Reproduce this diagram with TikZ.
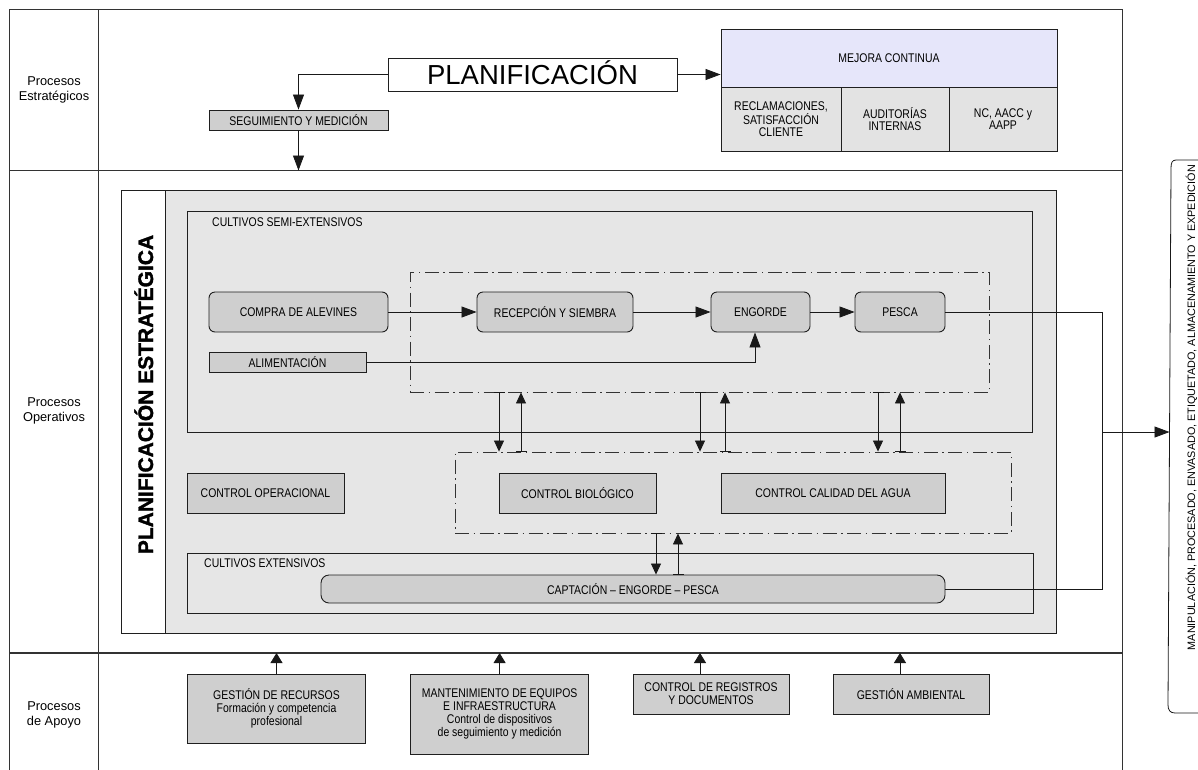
\documentclass[tikz,border=0pt]{standalone}
\usepackage{fontspec}
\setmainfont{Liberation Sans}
\newfontfamily\narrowfont{Liberation Sans}[FakeStretch=0.83]
\newfontfamily\heavyfont{Liberation Sans Bold}[FakeBold=1.6]
\usetikzlibrary{arrows.meta}
\definecolor{boxgray}{HTML}{CFCFCF}
\definecolor{areagray}{HTML}{E6E6E6}
\definecolor{cellgray}{HTML}{E3E3E3}
\definecolor{lavend}{HTML}{E6E6FA}
\newcommand\lblfont{\narrowfont\fontsize{12.6}{12.8}\selectfont}
\tikzset{
  frameline/.style={draw=black!80, line width=1.5pt},
  edge/.style={draw=black!88, line width=0.9pt},
  box/.style={edge, fill=boxgray, inner sep=0pt, align=center, font=\lblfont},
  proc/.style={box, rounded corners=6pt},
  cell/.style={edge, fill=cellgray, inner sep=0pt, align=center,
    font=\narrowfont\fontsize{12.6}{12}\selectfont},
  area/.style={edge, fill=areagray, inner sep=0pt},
  dashbox/.style={draw=black!80, line width=0.9pt, inner sep=0pt,
    dash pattern=on 14pt off 4.5pt on 1.5pt off 4.5pt},
  conn/.style={draw=black!90, line width=0.8pt},
  arr/.style={conn, -{Triangle[length=15pt,width=11pt]}},
  parr/.style={conn, {Bar[width=11pt]}-{Triangle[length=11pt,width=10pt]}},
  sarr/.style={conn, -{Triangle[length=10pt,width=12pt]}},
  lane/.style={font=\fontsize{12.8}{14.5}\selectfont, align=center},
  tag/.style={font=\lblfont, anchor=west, inner sep=0pt},
}
\begin{document}
\begin{tikzpicture}[x=1pt,y=-1pt]
\useasboundingbox (0,0) rectangle (1198,769);
\clip (0,0) rectangle (1198,769);
\fill[white] (0,0) rectangle (1198,769);

% lanes
\draw[frameline] (9.6,780) -- (9.6,9.5) -- (1122.5,9.5) -- (1122.5,780);
\draw[frameline] (98.7,9.5) -- (98.7,780);
\draw[frameline] (9.6,170.5) -- (1122.5,170.5);
\draw[frameline] (9.6,653) -- (1122.5,653);
\coordinate (rowA) at (0,170.5);
\coordinate (rowB) at (0,653);

\node[lane] (lblE) at (54,90) {Procesos\\Estratégicos};
\node[lane] (lblO) at (54,411) {Procesos\\Operativos};
\node[lane] (lblA) at (54,715) {Procesos\\de Apoyo};

% strategic processes
\node[edge, fill=white, inner sep=0pt, minimum width=289pt, minimum height=33pt,
  font=\fontsize{27.5}{27.5}\selectfont, text height=19.7pt, text depth=0pt]
  (planif) at (532.5,74.5) {PLANIFICACIÓN};
\node[box, minimum width=179pt, minimum height=20pt] (seg) at (298.5,120) {SEGUIMIENTO Y MEDICIÓN};
\node[edge, fill=lavend, inner sep=0pt, minimum width=336pt, minimum height=58pt, font=\lblfont]
  (mejora) at (889,58) {MEJORA CONTINUA};
\node[cell, minimum width=120pt, minimum height=64pt] (c1) at (781,119) {RECLAMACIONES,\\SATISFACCIÓN\\CLIENTE};
\node[cell, minimum width=108pt, minimum height=64pt] (c2) at (895,119) {AUDITORÍAS\\INTERNAS};
\node[cell, minimum width=108pt, minimum height=64pt] (c3) at (1003,119) {NC, AACC y\\AAPP};

\draw[arr] (planif.west) -| (seg.north);
\draw[arr] (seg.south) -- (seg.south |- rowA);
\draw[arr] (planif.east) -- (mejora.west |- planif.east);

% operative processes
\node[edge, fill=white, inner sep=0pt, minimum width=44pt, minimum height=443pt] (strip) at (143,411.5) {};
\node[area, minimum width=891pt, minimum height=443pt] (region) at (610.5,411.5) {};
\node[rotate=90, anchor=base, inner sep=0pt, font=\heavyfont\fontsize{21}{21}\selectfont]
  (pe) at (153,394.5) {PLANIFICACIÓN ESTRATÉGICA};

\node[area, minimum width=845.6pt, minimum height=221pt] (semi) at (609.8,321.5) {};
\node[tag] (semiT) at (212,222) {CULTIVOS SEMI-EXTENSIVOS};
\node[dashbox, minimum width=579pt, minimum height=120pt] (dash1) at (699.5,332) {};

\node[proc, minimum width=179pt, minimum height=40pt] (compra) at (298.5,312) {COMPRA DE ALEVINES};
\node[proc, minimum width=156pt, minimum height=40pt] (recep) at (555,312) {RECEPCIÓN Y SIEMBRA};
\node[proc, minimum width=99pt, minimum height=40pt] (engorde) at (760.5,312) {ENGORDE};
\node[proc, minimum width=90pt, minimum height=40pt] (pesca) at (900,312) {PESCA};
\node[box, minimum width=157pt, minimum height=20pt] (alim) at (287.5,362) {ALIMENTACIÓN};

\draw[arr] (compra.east) -- (recep.west);
\draw[arr] (recep.east) -- (engorde.west);
\draw[arr] (engorde.east) -- (pesca.west);
\draw[arr] (alim.east) -| ([xshift=-5.5pt]engorde.south);

\node[dashbox, minimum width=556pt, minimum height=81pt] (dash2) at (733,492.5) {};
\node[box, minimum width=157pt, minimum height=40pt] (ctrlop) at (265.5,493) {CONTROL OPERACIONAL};
\node[box, minimum width=157pt, minimum height=40pt] (ctrlbio) at (577.5,493) {CONTROL BIOLÓGICO};
\node[box, minimum width=224pt, minimum height=40pt] (ctrlag) at (833,493) {CONTROL CALIDAD DEL AGUA};

\node[area, minimum width=846.6pt, minimum height=60pt] (ext) at (610.3,583) {};
\node[tag] (extT) at (204,563) {CULTIVOS EXTENSIVOS};
\node[box, rounded corners=8pt, minimum width=624pt, minimum height=28pt] (capt) at (633,589)
  {CAPTACIÓN – ENGORDE – PESCA};

% exchanges with the control area
\coordinate (p1a) at (499,0);
\coordinate (p1b) at (521,0);
\coordinate (p2a) at (700,0);
\coordinate (p2b) at (725,0);
\coordinate (p3a) at (878,0);
\coordinate (p3b) at (900,0);
\coordinate (p4a) at (656,0);
\coordinate (p4b) at (678,0);
\draw[parr] (dash1.south -| p1a) -- (dash2.north -| p1a);
\draw[parr] (dash2.north -| p1b) -- (dash1.south -| p1b);
\draw[parr] (dash1.south -| p2a) -- (dash2.north -| p2a);
\draw[parr] (dash2.north -| p2b) -- (dash1.south -| p2b);
\draw[parr] (dash1.south -| p3a) -- (dash2.north -| p3a);
\draw[parr] (dash2.north -| p3b) -- (dash1.south -| p3b);
\draw[parr] (dash2.south -| p4a) -- (capt.north -| p4a);
\draw[parr] (capt.north -| p4b) -- (dash2.south -| p4b);

% output to handling and dispatch
\draw[conn] (1205,160) -- (1176,160) .. controls (1172,160) and (1171,163) .. (1171,168)
  -- (1168,705) .. controls (1168,710) and (1170,713) .. (1175,713) -- (1205,713);
\coordinate (brk) at (1169.5,432);
\coordinate (jn) at (1102,432);
\node[rotate=90, anchor=base, inner sep=0pt] (expd) at (1195,407.5)
  {\resizebox{485pt}{!}{\fontsize{10.3}{10.3}\selectfont MANIPULACIÓN, PROCESADO, ENVASADO, ETIQUETADO, ALMACENAMIENTO Y EXPEDICIÓN}};
\draw[conn] (pesca.east) -- (pesca.east -| jn) |- (capt.east);
\draw[arr] (jn) -- (brk);

% support processes
\node[box, minimum width=178pt, minimum height=69pt, font=\narrowfont\fontsize{12.6}{13}\selectfont]
  (gr) at (276.5,708.5) {GESTIÓN DE RECURSOS\\Formación y competencia\\profesional};
\node[box, minimum width=178pt, minimum height=80pt, font=\narrowfont\fontsize{12.6}{13}\selectfont]
  (mant) at (499.6,714) {MANTENIMIENTO DE EQUIPOS\\E INFRAESTRUCTURA\\Control de dispositivos\\de seguimiento y medición};
\node[box, minimum width=156pt, minimum height=40pt, font=\narrowfont\fontsize{12.6}{13}\selectfont]
  (creg) at (711,694) {CONTROL DE REGISTROS\\Y DOCUMENTOS};
\node[box, minimum width=156pt, minimum height=40pt] (gamb) at (911,694) {GESTIÓN AMBIENTAL};

\draw[sarr] (gr.north) -- (gr.north |- rowB);
\draw[sarr] (mant.north) -- (mant.north |- rowB);
\draw[sarr] (p2a |- creg.north) -- (p2a |- rowB);
\draw[sarr] (p3b |- gamb.north) -- (p3b |- rowB);
\end{tikzpicture}
\end{document}
